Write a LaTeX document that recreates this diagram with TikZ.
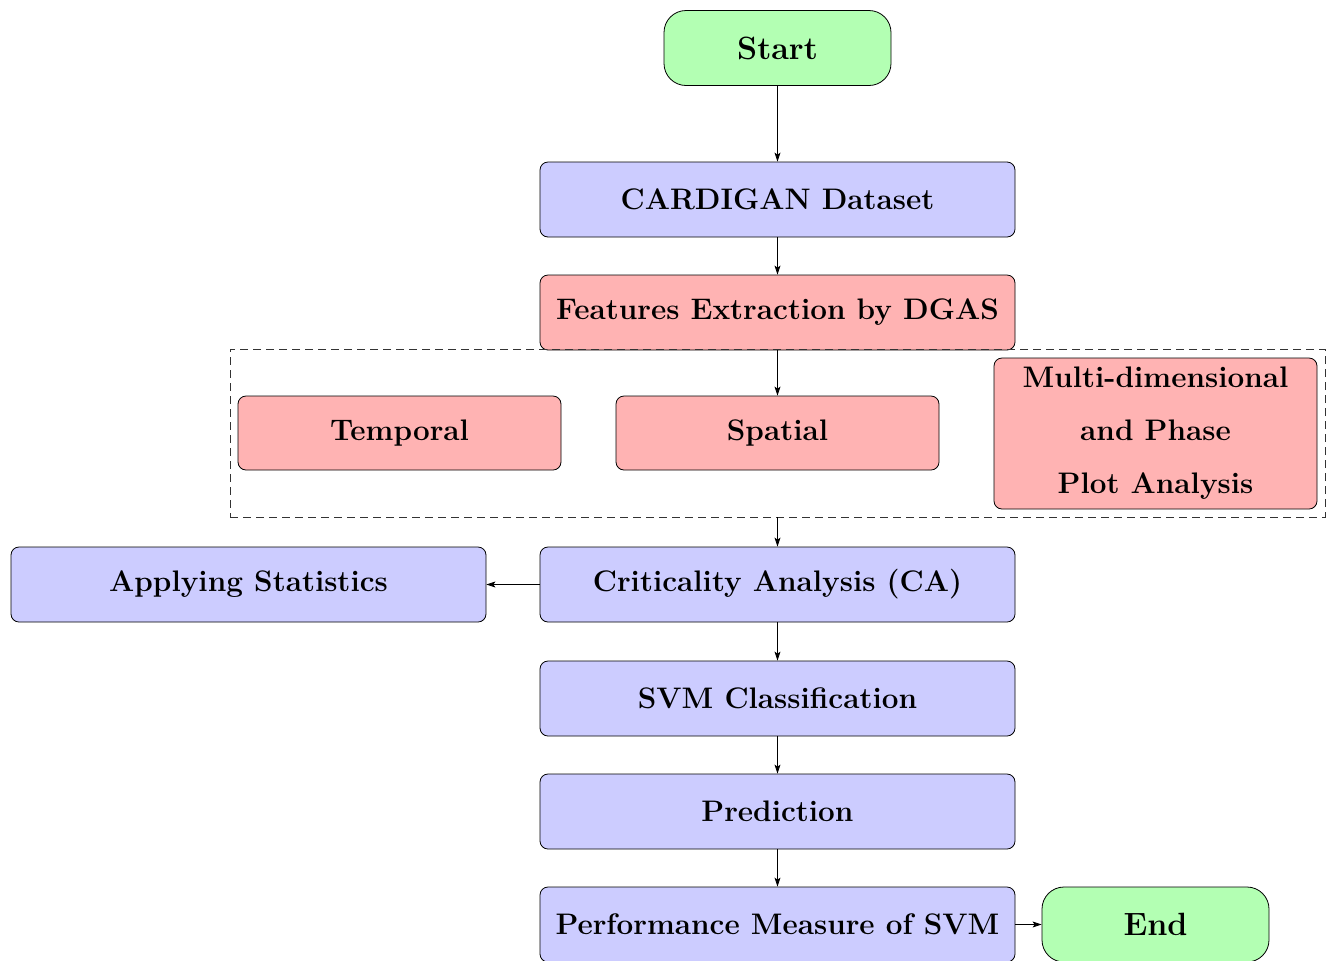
\documentclass[tikz,border=0pt]{standalone}
\usetikzlibrary{arrows.meta,fit}
\definecolor{boxblue}{HTML}{CCCCFF}
\definecolor{boxred}{HTML}{FFB3B3}
\definecolor{boxgreen}{HTML}{B3FFB3}
\tikzset{
  base/.style={draw=black, line width=0.4pt, font=\fontsize{14.85}{18}\selectfont\bfseries, align=center, inner sep=2pt},
  bluebox/.style={base, fill=boxblue, rounded corners=4pt, minimum width=237.5pt, minimum height=37.5pt},
  redbox/.style={base, fill=boxred, rounded corners=4pt, minimum width=161.5pt, minimum height=37pt},
  termbox/.style={base, fill=boxgreen, rounded corners=11pt, minimum width=113.5pt, minimum height=37.5pt, font=\fontsize{16.1}{19}\selectfont\bfseries},
  conn/.style={draw=black, line width=0.4pt, -{Stealth[length=4.5pt,width=3pt,inset=1pt]}},
  groupbox/.style={draw=black!80, dashed, dash pattern=on 4pt off 2.5pt, line width=0.4pt, inner sep=0pt}
}
\begin{document}
\begin{tikzpicture}[x=0.5pt,y=-0.5pt]
\useasboundingbox (0,0) rectangle (1334,960);
\node[termbox] (start) at (777.5,48) {Start};
\node[bluebox] (data) at (777.5,199.5) {CARDIGAN Dataset};
\node[redbox, minimum width=237.5pt, minimum height=37.5pt] (feat) at (777.5,312.5) {Features Extraction by DGAS};
\node[redbox] (temp) at (399.5,433) {Temporal};
\node[redbox] (spat) at (777.5,433) {Spatial};
\node[redbox, minimum height=75.5pt] (multi) at (1155.5,433.5) {Multi-dimensional\\[8.5pt] and Phase\\[8.5pt] Plot Analysis};
\coordinate (gtl) at (230,349);
\coordinate (gbr) at (1325,517);
\node[groupbox, fit=(gtl)(gbr)] (group) {};
\node[bluebox] (ca) at (777.5,584.5) {Criticality Analysis (CA)};
\node[bluebox] (stat) at (248.5,584.5) {Applying Statistics};
\node[bluebox] (svm) at (777.5,698.5) {SVM Classification};
\node[bluebox] (pred) at (777.5,811.5) {Prediction};
\node[bluebox] (perf) at (777.5,924.5) {Performance Measure of SVM};
\node[termbox] (end) at (1155.5,924.5) {End};
\draw[conn] (start) -- (data);
\draw[conn] (data) -- (feat);
\draw[conn] (feat) -- (spat);
\draw[conn] (group.south -| ca.north) -- (ca);
\draw[conn] (ca) -- (stat);
\draw[conn] (ca) -- (svm);
\draw[conn] (svm) -- (pred);
\draw[conn] (pred) -- (perf);
\draw[conn] (perf) -- (end);
\end{tikzpicture}
\end{document}
